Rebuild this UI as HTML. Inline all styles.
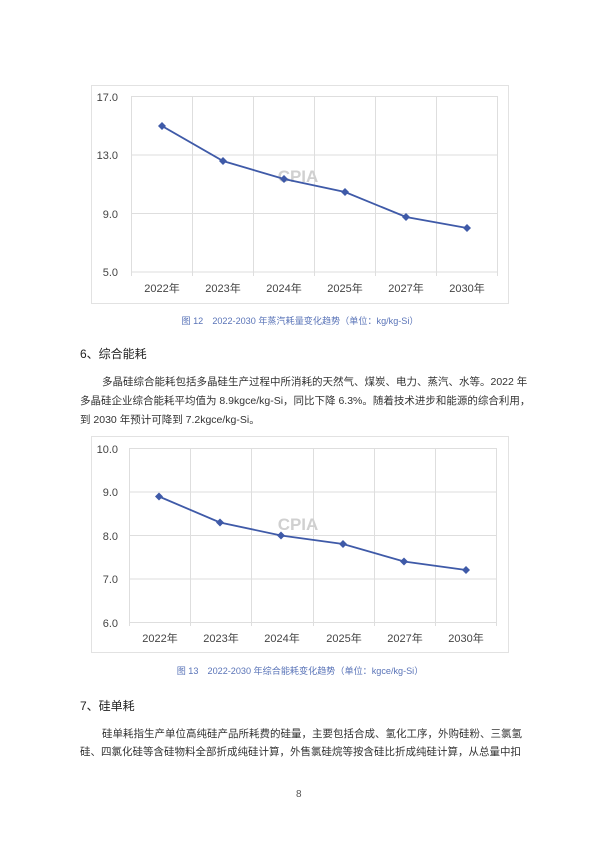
<!DOCTYPE html>
<html><head><meta charset="utf-8"><style>
body{margin:0;width:600px;height:848px;background:#fff;position:relative;overflow:hidden;font-family:"Liberation Sans","Noto Sans CJK SC",sans-serif;color:#333}
.t{position:absolute;white-space:nowrap;font-size:10.5px;line-height:14px}
.cap{color:#5a74b8;font-size:9.1px;left:0;width:600px;text-align:center}
.h{font-size:12px;color:#222}
svg{position:absolute;left:0;top:0}
svg text{font-family:"Liberation Sans","Noto Sans CJK SC",sans-serif;font-size:11px;fill:#444}
</style></head><body>
<svg width="600" height="848">
<rect x="91.5" y="85.5" width="417" height="218" fill="none" stroke="#e2e2e2"/>
<g stroke="#dedede" stroke-width="1">
<line x1="131" y1="96.5" x2="498" y2="96.5"/><line x1="131" y1="155" x2="498" y2="155"/><line x1="131" y1="213.5" x2="498" y2="213.5"/><line x1="131" y1="272" x2="498" y2="272"/>
<line x1="131.5" y1="96" x2="131.5" y2="276"/><line x1="192.5" y1="96" x2="192.5" y2="276"/><line x1="253.5" y1="96" x2="253.5" y2="276"/><line x1="314.5" y1="96" x2="314.5" y2="276"/><line x1="375.5" y1="96" x2="375.5" y2="276"/><line x1="436.5" y1="96" x2="436.5" y2="276"/><line x1="497.5" y1="96" x2="497.5" y2="276"/>
</g>
<g text-anchor="end"><text x="118" y="101">17.0</text><text x="118" y="159">13.0</text><text x="118" y="218">9.0</text><text x="118" y="276">5.0</text></g>
<g text-anchor="middle"><text x="162" y="292">2022年</text><text x="223" y="292">2023年</text><text x="284" y="292">2024年</text><text x="345" y="292">2025年</text><text x="406" y="292">2027年</text><text x="467" y="292">2030年</text></g>
<text x="298" y="182" text-anchor="middle" style="font-size:17px;font-weight:bold;fill:#d0d0d0">CPIA</text>
<polyline fill="none" stroke="#3f5aa8" stroke-width="1.8" points="162,126 223,161 284,179 345,192 406,217 467,228"/>
<g fill="#3f5aa8"><path d="M162 122l4 4-4 4-4-4z"/><path d="M223 157l4 4-4 4-4-4z"/><path d="M284 175l4 4-4 4-4-4z"/><path d="M345 188l4 4-4 4-4-4z"/><path d="M406 213l4 4-4 4-4-4z"/><path d="M467 224l4 4-4 4-4-4z"/></g>
<rect x="91.5" y="436.5" width="417" height="216" fill="none" stroke="#e2e2e2"/>
<g stroke="#dedede" stroke-width="1">
<line x1="129" y1="448.5" x2="497" y2="448.5"/><line x1="129" y1="492" x2="497" y2="492"/><line x1="129" y1="535.5" x2="497" y2="535.5"/><line x1="129" y1="579" x2="497" y2="579"/><line x1="129" y1="622.5" x2="497" y2="622.5"/>
<line x1="129.5" y1="448" x2="129.5" y2="626"/><line x1="190.5" y1="448" x2="190.5" y2="626"/><line x1="251.5" y1="448" x2="251.5" y2="626"/><line x1="313.5" y1="448" x2="313.5" y2="626"/><line x1="374.5" y1="448" x2="374.5" y2="626"/><line x1="435.5" y1="448" x2="435.5" y2="626"/><line x1="496.5" y1="448" x2="496.5" y2="626"/>
</g>
<g text-anchor="end"><text x="118" y="453">10.0</text><text x="118" y="496">9.0</text><text x="118" y="540">8.0</text><text x="118" y="583">7.0</text><text x="118" y="627">6.0</text></g>
<g text-anchor="middle"><text x="160" y="642">2022年</text><text x="221" y="642">2023年</text><text x="282" y="642">2024年</text><text x="344" y="642">2025年</text><text x="405" y="642">2027年</text><text x="466" y="642">2030年</text></g>
<text x="298" y="530" text-anchor="middle" style="font-size:17px;font-weight:bold;fill:#d0d0d0">CPIA</text>
<polyline fill="none" stroke="#3f5aa8" stroke-width="1.8" points="159,496.5 220,522.5 281,535.5 343,544 404,561.5 466,570"/>
<g fill="#3f5aa8"><path d="M159 492.5l4 4-4 4-4-4z"/><path d="M220 518.5l4 4-4 4-4-4z"/><path d="M281 531.5l4 4-4 4-4-4z"/><path d="M343 540l4 4-4 4-4-4z"/><path d="M404 557.5l4 4-4 4-4-4z"/><path d="M466 566l4 4-4 4-4-4z"/></g>
</svg>
<div class="t cap" style="top:314px">图 12　2022-2030 年蒸汽耗量变化趋势（单位：kg/kg-Si）</div>
<div class="t h" style="left:80px;top:347px">6、综合能耗</div>
<div class="t" style="left:102px;top:375px">多晶硅综合能耗包括多晶硅生产过程中所消耗的天然气、煤炭、电力、蒸汽、水等。2022 年</div>
<div class="t" style="left:80px;top:394px">多晶硅企业综合能耗平均值为 8.9kgce/kg-Si，同比下降 6.3%。随着技术进步和能源的综合利用，</div>
<div class="t" style="left:80px;top:413px">到 2030 年预计可降到 7.2kgce/kg-Si。</div>
<div class="t cap" style="top:664px">图 13　2022-2030 年综合能耗变化趋势（单位：kgce/kg-Si）</div>
<div class="t h" style="left:80px;top:699px">7、硅单耗</div>
<div class="t" style="left:102px;top:727px">硅单耗指生产单位高纯硅产品所耗费的硅量，主要包括合成、氢化工序，外购硅粉、三氯氢</div>
<div class="t" style="left:80px;top:745px">硅、四氯化硅等含硅物料全部折成纯硅计算，外售氯硅烷等按含硅比折成纯硅计算，从总量中扣</div>
<div class="t" style="left:296px;top:788px;font-size:10px;color:#555">8</div>
</body></html>
